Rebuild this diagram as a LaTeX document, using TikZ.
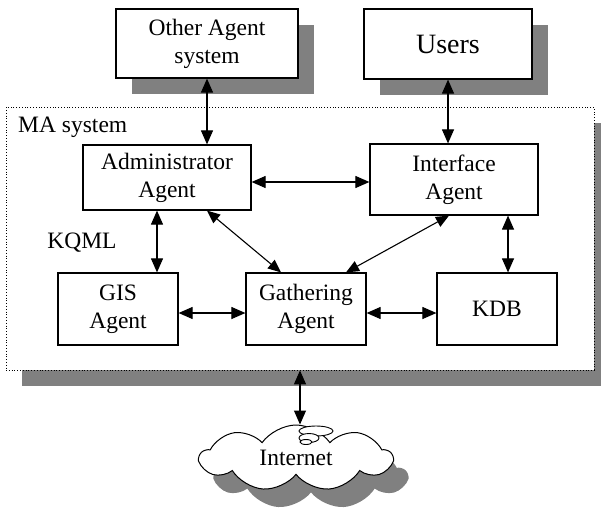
\documentclass[tikz,border=0pt]{standalone}
\usepackage{fontspec}
\setmainfont{Liberation Serif}
\usetikzlibrary{arrows.meta,shapes.symbols,shadows}
\definecolor{shade}{HTML}{808080}
\begin{document}
\begin{tikzpicture}[x=1pt,y=-1pt,
  txt/.style={font=\fontsize{23.5}{28}\selectfont},
  box/.style={draw, line width=1.2pt, fill=white, align=center, inner sep=0pt, txt},
  shbox/.style={box, general shadow={fill=shade, shadow xshift=16pt, shadow yshift=-16pt}},
  dbl/.style={line width=1.1pt, {Triangle[length=14pt,width=12pt]}-{Triangle[length=14pt,width=12pt]}},
  dbls/.style={line width=1.1pt, {Triangle[length=13pt,width=11pt]}-{Triangle[length=13pt,width=11pt]}}
]
\useasboundingbox (0,0) rectangle (601,511);
\node[shbox, minimum width=182pt, minimum height=69pt] (other) at (207,43.5) {Other Agent\\system};
\node[shbox, minimum width=168pt, minimum height=70pt, font=\fontsize{28}{32}\selectfont] (users) at (448,44) {Users};
\node[draw, dotted, line width=0.8pt, fill=white, minimum width=588pt, minimum height=263pt, inner sep=0pt,
  general shadow={fill=shade, shadow xshift=16pt, shadow yshift=-16pt}] (ma) at (300,238.5) {};
\node[txt, anchor=west, inner sep=0pt] (malabel) at (18,127) {MA system};
\node[txt, inner sep=0pt] (kqml) at (82,243) {KQML};
\node[box, minimum width=168pt, minimum height=65pt] (admin) at (167,177.5) {Administrator\\Agent};
\node[box, minimum width=168pt, minimum height=71pt] (iface) at (454,179.5) {Interface\\Agent};
\node[box, minimum width=120pt, minimum height=72pt] (gis) at (118,309) {GIS\\Agent};
\node[box, minimum width=120pt, minimum height=72pt] (gath) at (306,309) {Gathering\\Agent};
\node[box, minimum width=120pt, minimum height=72pt] (kdb) at (497,309) {KDB};
\node[cloud, cloud puffs=9, cloud puff arc=110, cloud ignores aspect, draw, line width=1pt, fill=white, inner sep=0pt,
  minimum width=192pt, minimum height=66pt, txt,
  general shadow={fill=shade, shadow xshift=15pt, shadow yshift=-18pt}] (net) at (296,458) {Internet};
% swirl at top of cloud
\draw[line width=0.9pt, fill=white] (316,431) ellipse (17pt and 5pt);
\draw[line width=0.9pt, fill=white] (309,438) ellipse (10pt and 4.5pt);
\draw[line width=0.9pt, fill=white] (306,442) ellipse (6pt and 2.5pt);
% connectors
\draw[dbl] (other.south) -- (other.south |- admin.north);
\draw[dbl] (users.south) -- (users.south |- iface.north);
\draw[dbl] ([yshift=-4.5pt]admin.east) -- ([yshift=-4.5pt]admin.east -| iface.west);
\draw[dbl] ([xshift=-10pt]admin.south) -- ([xshift=-10pt]admin.south |- gis.north);
\draw[dbls] ([xshift=40pt]admin.south) -- ([xshift=-25pt]gath.north);
\draw[dbls] ([xshift=-5pt]iface.south) -- ([xshift=40pt]gath.north);
\draw[dbl] ([xshift=54pt]iface.south) -- ([xshift=54pt]iface.south |- kdb.north);
\draw[dbl] ([yshift=-4pt]gis.east) -- ([yshift=-4pt]gath.west);
\draw[dbl] ([yshift=-4pt]gath.east) -- ([yshift=-4pt]kdb.west);
\draw[dbl] (ma.south) -- (ma.south |- net.north);
\end{tikzpicture}
\end{document}
